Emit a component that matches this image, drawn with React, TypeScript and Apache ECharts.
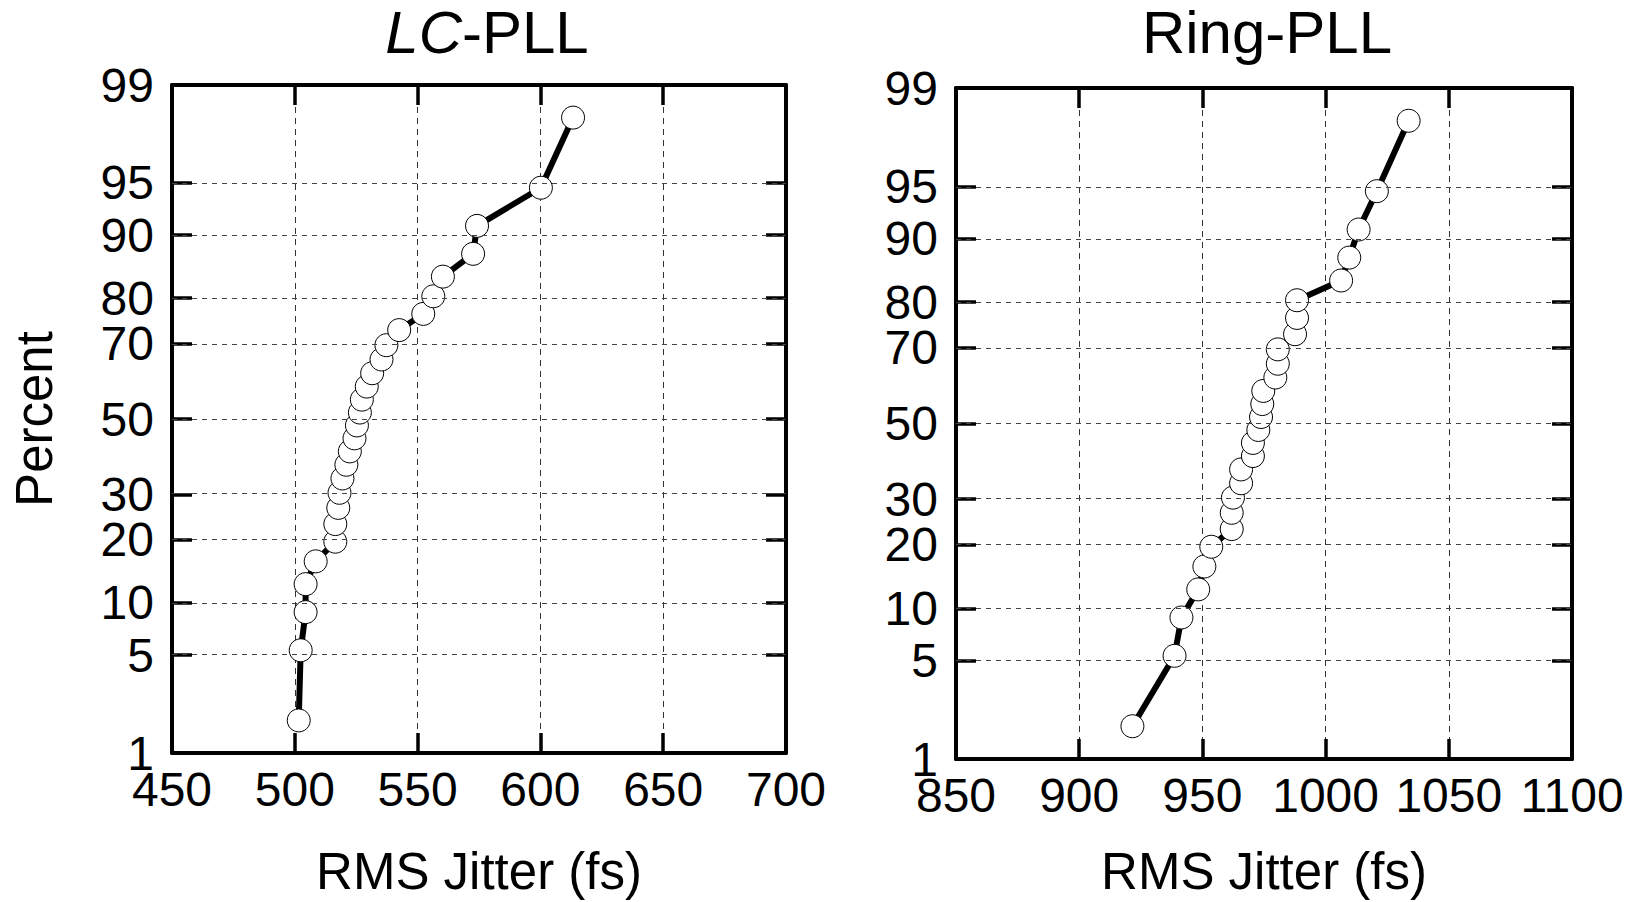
import React, { useEffect, useRef } from 'react';
import * as echarts from 'echarts';

// Probability-axis tick labels (percent)
const percentTicks = [1, 5, 10, 20, 30, 50, 70, 80, 90, 95, 99];
// Plotting positions (percent) of the 28 ranked samples
const plotPercents = [1.79, 5.36, 8.93, 12.5, 16.07, 19.64, 23.21, 26.79, 30.36, 33.93, 37.5, 41.07, 44.64, 48.21, 51.79, 55.36, 58.93, 62.5, 66.07, 69.64, 73.21, 76.79, 80.36, 83.93, 87.5, 91.07, 94.64, 98.21];
// RMS jitter samples (fs), ranked
const lcJitter = [501.6, 502.4, 504.4, 504.4, 508.5, 516.5, 516.5, 517.7, 518.2, 519.4, 521.0, 522.4, 524.3, 525.3, 526.5, 527.3, 529.3, 531.5, 535.3, 537.3, 542.5, 552.3, 556.4, 560.3, 572.6, 574.2, 600.2, 613.3];
const ringJitter = [921.6, 938.7, 941.5, 948.3, 950.8, 953.6, 961.9, 961.9, 962.4, 965.7, 965.7, 970.5, 970.5, 972.7, 973.8, 974.3, 974.7, 979.6, 980.6, 980.6, 987.6, 988.4, 988.4, 1006.3, 1009.6, 1013.4, 1020.8, 1033.7];
const lcXRange = [450, 700];
const ringXRange = [850, 1100];
const xStep = 50;

const FONT = '"Liberation Sans", Arial, Helvetica, sans-serif';

function probit(p: number): number {
  const a = [-3.969683028665376e1, 2.209460984245205e2, -2.759285104469687e2, 1.38357751867269e2, -3.066479806614716e1, 2.506628277459239];
  const b = [-5.447609879822406e1, 1.615858368580409e2, -1.556989798598866e2, 6.680131188771972e1, -1.328068155288572e1];
  const c = [-7.784894002430293e-3, -3.223964580411365e-1, -2.400758277161838, -2.549732539343734, 4.374664141464968, 2.938163982698783];
  const d = [7.784695709041462e-3, 3.224671290700398e-1, 2.445134137142996, 3.754408661907416];
  const plow = 0.02425;
  const phigh = 1 - plow;
  let q: number, r: number;
  if (p < plow) {
    q = Math.sqrt(-2 * Math.log(p));
    return (((((c[0] * q + c[1]) * q + c[2]) * q + c[3]) * q + c[4]) * q + c[5]) / ((((d[0] * q + d[1]) * q + d[2]) * q + d[3]) * q + 1);
  }
  if (p <= phigh) {
    q = p - 0.5;
    r = q * q;
    return ((((((a[0] * r + a[1]) * r + a[2]) * r + a[3]) * r + a[4]) * r + a[5]) * q) / (((((b[0] * r + b[1]) * r + b[2]) * r + b[3]) * r + b[4]) * r + 1);
  }
  q = Math.sqrt(-2 * Math.log(1 - p));
  return -(((((c[0] * q + c[1]) * q + c[2]) * q + c[3]) * q + c[4]) * q + c[5]) / ((((d[0] * q + d[1]) * q + d[2]) * q + d[3]) * q + 1);
}

const zTicks = percentTicks.map((p) => probit(p / 100));
const zMin = zTicks[0];
const zMax = zTicks[zTicks.length - 1];

function pctLabel(v: number): string {
  let best = 0;
  let bd = Infinity;
  zTicks.forEach((z, i) => {
    const dd = Math.abs(z - v);
    if (dd < bd) { bd = dd; best = i; }
  });
  return String(percentTicks[best]);
}

export default function App() {
  const ref = useRef<HTMLDivElement>(null);
  useEffect(() => {
    if (!ref.current) return;
    const chart = echarts.init(ref.current, undefined, { renderer: 'svg' });
    const grids = [
      { left: 172, top: 85, width: 614, height: 668 },
      { left: 956, top: 88, width: 616, height: 671 },
    ];
    const ranges = [lcXRange, ringXRange];
    const datasets = [lcJitter, ringJitter];
    const nameGaps = [93, 87];
    const boxLine = { lineStyle: { color: '#000', width: 4 } };
    const tick = { inside: true, length: 20, lineStyle: { color: '#000', width: 3.5 } };
    const xAxes: any[] = [];
    const yAxes: any[] = [];
    const series: any[] = [];
    grids.forEach((g, gi) => {
      const [mn, mx] = ranges[gi];
      xAxes.push({
        gridIndex: gi, type: 'value', min: mn, max: mx, interval: xStep, position: 'bottom',
        axisLine: { show: true, onZero: false, ...boxLine },
        axisTick: tick,
        axisLabel: { fontSize: 48, lineHeight: 40, color: '#000', fontFamily: FONT, margin: 16, formatter: (v: number) => String(v) },
        splitLine: { show: true, lineStyle: { type: [6, 5], color: '#333', width: 1 } },
        name: 'RMS Jitter (fs)', nameLocation: 'middle', nameGap: nameGaps[gi],
        nameTextStyle: { fontSize: 51, color: '#000', fontFamily: FONT },
      });
      xAxes.push({
        gridIndex: gi, type: 'value', min: mn, max: mx, interval: xStep, position: 'top',
        axisLine: { show: true, onZero: false, ...boxLine },
        axisTick: tick,
        axisLabel: { show: false },
        splitLine: { show: false },
      });
      yAxes.push({
        gridIndex: gi, type: 'value', min: zMin, max: zMax, position: 'left',
        axisLine: { show: true, onZero: false, ...boxLine },
        axisTick: { ...tick, customValues: zTicks },
        axisLabel: {
          customValues: zTicks, formatter: (v: number) => pctLabel(v),
          fontSize: 48, lineHeight: 34, color: '#000', fontFamily: FONT, margin: 18, padding: [0, 0, 9, 0],
        },
        splitLine: { show: false },
        ...(gi === 0
          ? { name: 'Percent', nameLocation: 'middle', nameGap: 112, nameRotate: 90, nameTextStyle: { fontSize: 51, color: '#000', fontFamily: FONT } }
          : {}),
      });
      yAxes.push({
        gridIndex: gi, type: 'value', min: zMin, max: zMax, position: 'right',
        axisLine: { show: true, onZero: false, ...boxLine },
        axisTick: { ...tick, customValues: zTicks },
        axisLabel: { show: false },
        splitLine: { show: false },
      });
      series.push({
        type: 'line', xAxisIndex: gi * 2, yAxisIndex: gi * 2, data: [], z: 1, silent: true,
        markLine: {
          silent: true, symbol: ['none', 'none'], label: { show: false },
          lineStyle: { type: [5, 5], color: '#444', width: 1 },
          data: zTicks.slice(1, -1).map((z) => ({ yAxis: z })),
        },
      });
      series.push({
        type: 'line', xAxisIndex: gi * 2, yAxisIndex: gi * 2, z: 3,
        data: datasets[gi].map((x, i) => [x, probit(plotPercents[i] / 100)]),
        symbol: 'circle', symbolSize: 23, showAllSymbol: true,
        itemStyle: { color: '#fff', borderColor: '#000', borderWidth: 1 },
        lineStyle: { color: '#000', width: 6 },
      });
    });
    chart.setOption({
      animation: false,
      backgroundColor: '#fff',
      title: [
        {
          text: '{i|LC}-PLL', left: 482, top: 2, textAlign: 'center',
          textStyle: { fontSize: 60, lineHeight: 50, fontWeight: 'normal', color: '#000', fontFamily: FONT,
            rich: { i: { fontStyle: 'italic', fontSize: 60, lineHeight: 50, color: '#000', fontFamily: FONT } } },
        },
        {
          text: 'Ring-PLL', left: 1262, top: 2, textAlign: 'center',
          textStyle: { fontSize: 60, lineHeight: 50, fontWeight: 'normal', color: '#000', fontFamily: FONT },
        },
      ],
      grid: grids.map((g) => ({ ...g, containLabel: false, outerBoundsMode: 'none' })),
      xAxis: xAxes,
      yAxis: yAxes,
      series,
    });
    return () => chart.dispose();
  }, []);
  return <div ref={ref} style={{ position: 'absolute', left: 0, top: 0, width: 1631, height: 902 }} />;
}
